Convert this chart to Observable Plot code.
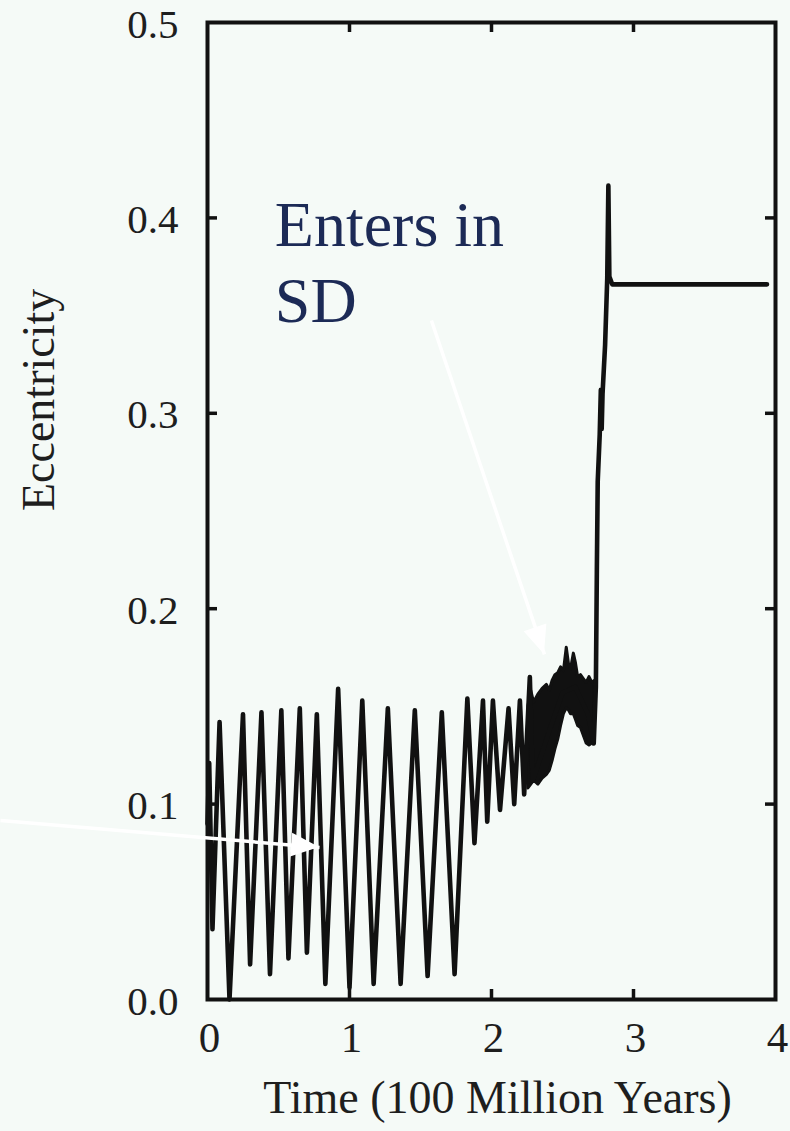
<!DOCTYPE html>
<html>
<head>
<meta charset="utf-8">
<script src="https://cdn.jsdelivr.net/npm/d3@7"></script>
<script src="https://cdn.jsdelivr.net/npm/@observablehq/plot@0.6"></script>
<style>
  html, body { margin: 0; padding: 0; background: #f5faf7; }
  #chart svg { display: block; }
</style>
</head>
<body>
<div id="chart"></div>
<script>
// Orbital eccentricity over time (units of 100 million years)
const time = [0.000, 0.012, 0.035, 0.085, 0.155, 0.250, 0.300, 0.380, 0.440, 0.520,
              0.570, 0.650, 0.700, 0.770, 0.830, 0.920, 1.000, 1.090, 1.170, 1.270,
              1.360, 1.460, 1.550, 1.650, 1.740, 1.830, 1.880, 1.940, 1.970, 2.010,
              2.060, 2.120, 2.160, 2.200, 2.230, 2.270, 2.290, 2.410, 2.500, 2.590,
              2.680, 2.720, 2.735, 2.742, 2.748, 2.762, 2.770, 2.776, 2.782, 2.800,
              2.815, 2.823, 2.830, 2.850, 3.940];
const ecc  = [0.090, 0.121, 0.036, 0.142, 0.000, 0.146, 0.018, 0.147, 0.013, 0.148,
              0.021, 0.149, 0.024, 0.146, 0.008, 0.159, 0.006, 0.153, 0.008, 0.149,
              0.008, 0.148, 0.012, 0.147, 0.013, 0.154, 0.080, 0.153, 0.091, 0.153,
              0.097, 0.149, 0.100, 0.153, 0.105, 0.165, 0.112, 0.138, 0.157, 0.160,
              0.146, 0.131, 0.160, 0.220, 0.265, 0.289, 0.312, 0.292, 0.310, 0.335,
              0.369, 0.4165, 0.370, 0.366, 0.366];

// Envelope of the rapid oscillation before the jump
const bandTime = [2.26, 2.28, 2.30, 2.33, 2.36, 2.39, 2.41, 2.43, 2.45, 2.47, 2.49, 2.51,
                  2.53, 2.545, 2.56, 2.58, 2.595, 2.61, 2.63, 2.65, 2.67, 2.69, 2.71, 2.725];
const bandLow  = [0.108, 0.110, 0.112, 0.110, 0.113, 0.115, 0.117, 0.122, 0.128, 0.133, 0.140, 0.146,
                  0.149, 0.148, 0.146, 0.146, 0.143, 0.140, 0.139, 0.135, 0.131, 0.130, 0.131, 0.132];
const bandHigh = [0.150, 0.158, 0.152, 0.156, 0.159, 0.161, 0.158, 0.163, 0.166, 0.167, 0.170, 0.168,
                  0.180, 0.172, 0.169, 0.177, 0.172, 0.165, 0.166, 0.164, 0.162, 0.165, 0.162, 0.163];

const xTicks = [0, 1, 2, 3, 4];
const yTicks = [0, 0.1, 0.2, 0.3, 0.4, 0.5];
const innerXTicks = [1, 2, 3];
const innerYTicks = [0.1, 0.2, 0.3, 0.4];

// Annotation arrows (data coordinates) and the note
const arrowX1 = [-1.458, 1.577];
const arrowY1 = [0.0916, 0.3475];
const arrowX2 = [0.789, 2.373];
const arrowY2 = [0.0778, 0.1766];
const noteX = [0.474];
const noteY = [0.3465];
const noteText = ["Enters in\nSD"];

const W = 790, H = 1131;
const mL = 207, mR = 15, mT = 22, mB = 132;
const frameW = W - mL - mR, frameH = H - mT - mB;
const tickLen = 10;
const serif = "'Liberation Serif', 'Times New Roman', serif";

const series = time.map((t, i) => ({t, e: ecc[i]}));
const band = bandTime.map((t, i) => ({t, lo: bandLow[i], hi: bandHigh[i]}));
const arrows = arrowX1.map((x1, i) => ({x1, y1: arrowY1[i], x2: arrowX2[i], y2: arrowY2[i]}));
const notes = noteText.map((text, i) => ({x: noteX[i], y: noteY[i], text}));

const chart = Plot.plot({
  width: W,
  height: H,
  marginLeft: mL,
  marginRight: mR,
  marginTop: mT,
  marginBottom: mB,
  style: {background: "#f5faf7", fontFamily: serif, fontSize: "41px", color: "#1e1e1e"},
  x: {domain: [0, 4]},
  y: {domain: [0, 0.5]},
  marks: [
    Plot.axisX(xTicks, {tickSize: 0, tickPadding: 22, label: null, fontSize: 43, dx: 2, tickFormat: d3.format("d")}),
    Plot.axisY(yTicks, {tickSize: 0, tickPadding: 29, label: null, dy: 2, tickFormat: d3.format(".1f")}),
    // inward tick marks on all four sides
    Plot.tickX(innerXTicks, {x: d => d, insetTop: frameH - tickLen, stroke: "#111", strokeWidth: 3.5}),
    Plot.tickX(innerXTicks, {x: d => d, insetBottom: frameH - tickLen, stroke: "#111", strokeWidth: 3.5}),
    Plot.tickY(innerYTicks, {y: d => d, insetRight: frameW - tickLen, stroke: "#111", strokeWidth: 3.5}),
    Plot.tickY(innerYTicks, {y: d => d, insetLeft: frameW - tickLen, stroke: "#111", strokeWidth: 3.5}),
    Plot.areaY(band, {x: "t", y1: "lo", y2: "hi", fill: "#111", stroke: "#111", strokeWidth: 3}),
    Plot.line(series, {x: "t", y: "e", stroke: "#111", strokeWidth: 4.6, strokeLinejoin: "round"}),
    Plot.frame({stroke: "#111", strokeWidth: 4}),
    Plot.text(["Eccentricity"], {text: d => d, frameAnchor: "left", rotate: -90, dx: -168, lineAnchor: "middle", fontSize: 46, fill: "#1e1e1e"}),
    Plot.text(["Time (100 Million Years)"], {text: d => d, frameAnchor: "bottom", dx: 6, dy: 113, lineAnchor: "bottom", fontSize: 46, fill: "#1e1e1e"}),
    Plot.link(arrows, {x1: "x1", y1: "y1", x2: "x2", y2: "y2", stroke: "white", strokeWidth: 3.5}),
    Plot.text(notes, {x: "x", y: "y", text: "text", textAnchor: "start", lineAnchor: "bottom", lineHeight: 1.2, fontSize: 64, fill: "#1c2a56"})
  ]
});

// Filled arrowheads at the end of each annotation arrow, placed with the plot's scales
const sx = chart.scale("x"), sy = chart.scale("y");
const headLen = 28, headHalf = 12;
const heads = arrows.map(a => {
  const px1 = sx.apply(a.x1), py1 = sy.apply(a.y1);
  const px2 = sx.apply(a.x2), py2 = sy.apply(a.y2);
  const L = Math.hypot(px2 - px1, py2 - py1);
  const ux = (px2 - px1) / L, uy = (py2 - py1) / L;
  const bx = px2 - ux * headLen, by = py2 - uy * headLen;
  return [[px2, py2], [bx - uy * headHalf, by + ux * headHalf], [bx + uy * headHalf, by - ux * headHalf]];
});
d3.select(chart).append("g")
  .attr("aria-label", "arrowheads")
  .selectAll("polygon")
  .data(heads)
  .join("polygon")
  .attr("points", d => d.map(p => p.join(",")).join(" "))
  .attr("fill", "white");

document.getElementById("chart").appendChild(chart);
</script>
</body>
</html>
